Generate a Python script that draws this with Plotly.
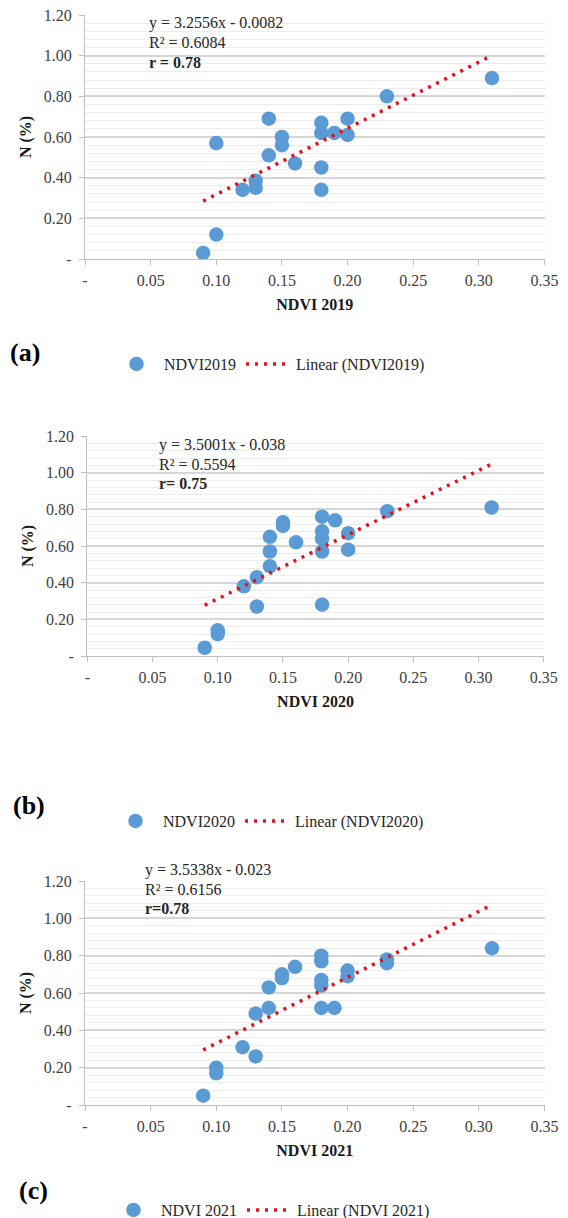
import plotly.graph_objects as go

# ---------------- data ----------------
ndvi_2019 = [0.09, 0.10, 0.10, 0.12, 0.13, 0.13, 0.14, 0.14, 0.15, 0.15, 0.16,
             0.18, 0.18, 0.18, 0.18, 0.19, 0.20, 0.20, 0.23, 0.31]
n_2019 = [0.03, 0.12, 0.57, 0.34, 0.35, 0.385, 0.69, 0.51, 0.60, 0.56, 0.47,
          0.67, 0.62, 0.45, 0.34, 0.62, 0.69, 0.61, 0.80, 0.89]

ndvi_2020 = [0.09, 0.10, 0.10, 0.12, 0.13, 0.13, 0.14, 0.14, 0.14, 0.15, 0.15,
             0.16, 0.18, 0.18, 0.18, 0.18, 0.18, 0.19, 0.20, 0.20, 0.23, 0.31]
n_2020 = [0.045, 0.14, 0.12, 0.38, 0.43, 0.27, 0.65, 0.57, 0.49, 0.73, 0.71,
          0.62, 0.76, 0.68, 0.64, 0.57, 0.28, 0.74, 0.67, 0.58, 0.79, 0.81]

ndvi_2021 = [0.09, 0.10, 0.10, 0.12, 0.13, 0.13, 0.14, 0.14, 0.15, 0.15, 0.16,
             0.18, 0.18, 0.18, 0.18, 0.18, 0.19, 0.20, 0.20, 0.23, 0.23, 0.31]
n_2021 = [0.05, 0.20, 0.17, 0.31, 0.26, 0.49, 0.63, 0.52, 0.68, 0.70, 0.74,
          0.80, 0.77, 0.67, 0.64, 0.52, 0.52, 0.72, 0.69, 0.76, 0.78, 0.84]

slopes = [3.2556, 3.5001, 3.5338]
intercepts = [-0.0082, -0.038, -0.023]

series_names = ["NDVI2019", "NDVI2020", "NDVI 2021"]
trend_names = ["Linear (NDVI2019)", "Linear (NDVI2020)", "Linear (NDVI 2021)"]
axis_titles = ["NDVI 2019", "NDVI 2020", "NDVI 2021"]
panel_labels = ["(a)", "(b)", "(c)"]
eq_lines = [
    ["y = 3.2556x - 0.0082", "R² = 0.6084", "<b>r = 0.78</b>"],
    ["y = 3.5001x - 0.038", "R² = 0.5594", "<b>r= 0.75</b>"],
    ["y = 3.5338x - 0.023", "R² = 0.6156", "<b>r=0.78</b>"],
]

x_tick_vals = [0, 0.05, 0.10, 0.15, 0.20, 0.25, 0.30, 0.35]
x_tick_text = ["-", "0.05", "0.10", "0.15", "0.20", "0.25", "0.30", "0.35"]
y_tick_vals = [0, 0.2, 0.4, 0.6, 0.8, 1.0, 1.2]
y_tick_text = ["-", "0.20", "0.40", "0.60", "0.80", "1.00", "1.20"]

# ---------------- layout geometry (pixels) ----------------
W, H = 568, 1218
plot_boxes = [  # x0, x1, ytop, ybottom
    (85, 544.5, 15, 259),
    (87.3, 543.8, 436, 656),
    (85, 544.5, 881, 1105),
]
eq_pos = [  # x start, y of each line
    (146.7, [23.3, 42.7, 62.0]),
    (156.7, [445.0, 464.0, 484.0]),
    (143.0, [870.0, 889.3, 908.7]),
]
label_pos = [(25, 352), (29, 805), (33, 1190)]
legend_y = [364, 821, 1210]
legend_x = [109, 108, 106]

FONT = "Liberation Serif, Times New Roman, serif"
BLUE = "#5B9BD5"
RED = "#E3101E"

xs = [ndvi_2019, ndvi_2020, ndvi_2021]
ys = [n_2019, n_2020, n_2021]

fig = go.Figure()
annotations = []
layout_axes = {}

def px_x(p):
    return p / W

def px_y(p):
    return 1 - p / H

for i in range(3):
    sfx = "" if i == 0 else str(i + 1)
    leg = "legend" if i == 0 else f"legend{i + 1}"
    xa, ya = f"x{sfx}", f"y{sfx}"

    fig.add_trace(go.Scatter(
        x=xs[i], y=ys[i], mode="markers", name=series_names[i],
        marker=dict(color=BLUE, size=14.5, line=dict(width=0)),
        xaxis=xa, yaxis=ya, legend=leg, showlegend=True,
    ))
    x_lo, x_hi = min(xs[i]), max(xs[i])
    fig.add_trace(go.Scatter(
        x=[x_lo, x_hi],
        y=[slopes[i] * x_lo + intercepts[i], slopes[i] * x_hi + intercepts[i]],
        mode="lines", name=trend_names[i],
        line=dict(color=RED, width=3.5, dash="3px,6px"),
        xaxis=xa, yaxis=ya, legend=leg, showlegend=True,
    ))

    x0, x1, yt, yb = plot_boxes[i]
    layout_axes[f"xaxis{sfx}"] = dict(
        domain=[px_x(x0), px_x(x1)], range=[0, 0.35], anchor=ya,
        tickvals=x_tick_vals, ticktext=x_tick_text,
        ticks="outside", ticklen=5, tickcolor="#BFBFBF", tickwidth=1.3,
        showline=True, linecolor="#BFBFBF", linewidth=1.3,
        showgrid=False, zeroline=False, ticklabelstandoff=2,
        tickfont=dict(family=FONT, size=16, color="#404040"),
        title=dict(text=f"<b>{axis_titles[i]}</b>", standoff=10,
                   font=dict(family=FONT, size=16, color="#1a1a1a")),
    )
    layout_axes[f"yaxis{sfx}"] = dict(
        domain=[px_y(yb), px_y(yt)], range=[0, 1.2], anchor=xa,
        tickvals=y_tick_vals, ticktext=y_tick_text,
        ticks="outside", ticklen=5, tickcolor="#BFBFBF", tickwidth=1.3,
        showline=True, linecolor="#BFBFBF", linewidth=1.3,
        showgrid=True, gridcolor="#D6D6D6", gridwidth=1.5,
        minor=dict(dtick=0.04, showgrid=True, gridcolor="#EDEDED", gridwidth=1),
        zeroline=False, ticklabelstandoff=4,
        tickfont=dict(family=FONT, size=16, color="#404040"),
        title=dict(text="<b>N (%)</b>", standoff=8,
                   font=dict(family=FONT, size=16, color="#1a1a1a")),
    )

    ex, eys = eq_pos[i]
    for line_txt, ly in zip(eq_lines[i], eys):
        annotations.append(dict(
            text=line_txt, xref="paper", yref="paper",
            x=px_x(ex), y=px_y(ly), xanchor="left", yanchor="middle",
            showarrow=False, font=dict(family=FONT, size=16, color="#262626"),
        ))
    lx, ly = label_pos[i]
    annotations.append(dict(
        text=f"<b>{panel_labels[i]}</b>", xref="paper", yref="paper",
        x=px_x(lx), y=px_y(ly), xanchor="center", yanchor="middle",
        showarrow=False, font=dict(family=FONT, size=26, color="#000000"),
    ))

legend_common = dict(
    orientation="h", xref="paper", yref="paper", xanchor="left", yanchor="middle",
    font=dict(family=FONT, size=16, color="#262626"), bgcolor="rgba(0,0,0,0)",
    itemclick=False, tracegroupgap=0, itemwidth=45,
)
fig.update_layout(
    width=W, height=H,
    margin=dict(l=0, r=0, t=0, b=0, autoexpand=False),
    paper_bgcolor="white", plot_bgcolor="white",
    annotations=annotations,
    legend=dict(x=px_x(legend_x[0]), y=px_y(legend_y[0]), **legend_common),
    legend2=dict(x=px_x(legend_x[1]), y=px_y(legend_y[1]), **legend_common),
    legend3=dict(x=px_x(legend_x[2]), y=px_y(legend_y[2]), **legend_common),
    **layout_axes,
)

fig.write_html(
    "out.html",
    config={"displayModeBar": False},
    post_script="document.body.style.margin='0';document.body.style.overflow='hidden';",
)
